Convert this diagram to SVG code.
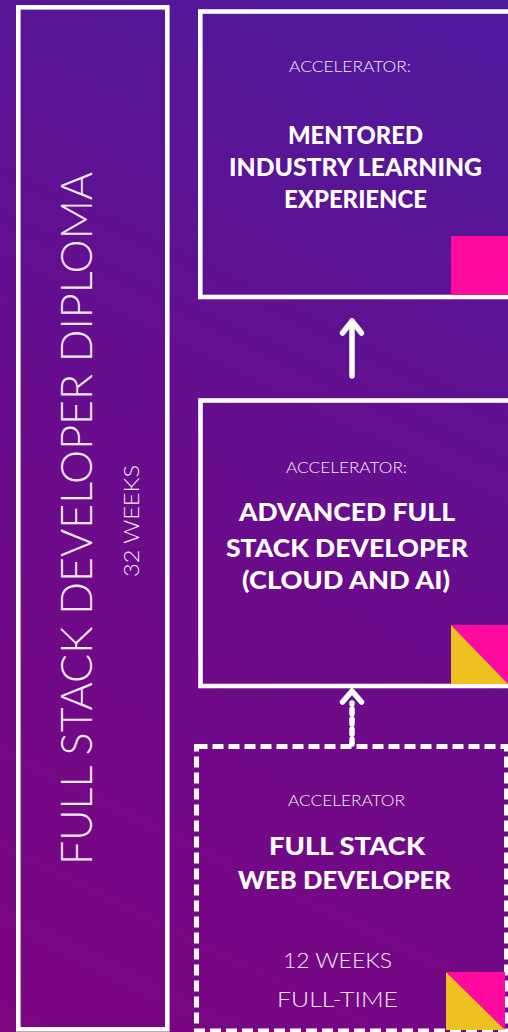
<svg xmlns="http://www.w3.org/2000/svg" width="508" height="1032" viewBox="0 0 508 1032">
<defs>
<linearGradient id="bg" x1="0" y1="1032" x2="508" y2="0" gradientUnits="userSpaceOnUse">
<stop offset="0" stop-color="#7d0580"/>
<stop offset="0.5" stop-color="#690c8c"/>
<stop offset="1" stop-color="#4e1a9e"/>
</linearGradient>
<style>
.box{fill:none;stroke:#ffffff;stroke-width:4.6}
.dash{fill:none;stroke:#ffffff;stroke-width:5;stroke-dasharray:11 5}
.lt{font-family:Lato,"Liberation Sans",sans-serif;font-weight:300;fill:#f3e9f7;text-anchor:middle}
.bd{font-family:Lato,"Liberation Sans",sans-serif;font-weight:900;fill:#ffffff;text-anchor:middle;font-size:24px}
.conn{stroke:#ffffff;stroke-width:5.5;fill:none;stroke-linecap:round;stroke-linejoin:round}
</style>
</defs>
<rect x="0" y="0" width="508" height="1032" fill="url(#bg)"/>

<g id="diploma">
<rect class="box" x="18.3" y="7.3" width="149" height="1022"/>
<text class="lt" transform="translate(92,518.5) rotate(-90)" font-size="44" textLength="693" lengthAdjust="spacingAndGlyphs">FULL STACK DEVELOPER DIPLOMA</text>
<text class="lt" transform="translate(139,521) rotate(-90)" font-size="21" textLength="112" lengthAdjust="spacingAndGlyphs">32 WEEKS</text>
</g>

<g id="mentored">
<rect class="box" x="200.3" y="11.5" width="320" height="285.5"/>
<rect x="451" y="236" width="57" height="59" fill="#ff0a9e"/>
<text class="lt" x="350" y="72" font-size="16" textLength="122" lengthAdjust="spacingAndGlyphs">ACCELERATOR:</text>
<text class="bd" x="355.5" y="144" textLength="135" lengthAdjust="spacingAndGlyphs">MENTORED</text>
<text class="bd" x="355.5" y="176" textLength="253" lengthAdjust="spacingAndGlyphs">INDUSTRY LEARNING</text>
<text class="bd" x="355.5" y="208" textLength="143" lengthAdjust="spacingAndGlyphs">EXPERIENCE</text>
</g>

<g id="advanced">
<rect class="box" x="200.5" y="400.5" width="320" height="285.5"/>
<polygon points="451,625 508,625 508,684" fill="#ff0a9e"/>
<polygon points="451,625 508,684 451,684" fill="#eec020"/>
<text class="lt" x="346.5" y="473" font-size="16" textLength="121" lengthAdjust="spacingAndGlyphs">ACCELERATOR:</text>
<text class="bd" x="347" y="521" textLength="216" lengthAdjust="spacingAndGlyphs">ADVANCED FULL</text>
<text class="bd" x="347" y="557" textLength="242" lengthAdjust="spacingAndGlyphs">STACK DEVELOPER</text>
<text class="bd" x="346" y="589" textLength="208" lengthAdjust="spacingAndGlyphs">(CLOUD AND AI)</text>
</g>

<g id="webdev">
<rect class="dash" x="196.5" y="746.5" width="310" height="284.5"/>
<polygon points="446,972 505,972 505,1030" fill="#ff0a9e"/>
<polygon points="446,972 505,1030 446,1030" fill="#eec020"/>
<text class="lt" x="346.5" y="806" font-size="16" textLength="117" lengthAdjust="spacingAndGlyphs">ACCELERATOR</text>
<text class="bd" x="347" y="855" textLength="156" lengthAdjust="spacingAndGlyphs">FULL STACK</text>
<text class="bd" x="344.5" y="889" textLength="213" lengthAdjust="spacingAndGlyphs">WEB DEVELOPER</text>
<text class="lt" x="337.5" y="968" font-size="21" textLength="109" lengthAdjust="spacingAndGlyphs">12 WEEKS</text>
<text class="lt" x="337.5" y="1007" font-size="21" textLength="121" lengthAdjust="spacingAndGlyphs">FULL-TIME</text>
</g>

<g id="connectors">
<line class="conn" x1="352" y1="376" x2="352" y2="321" stroke-linecap="butt"/>
<polyline class="conn" points="342.5,333 352,321 361.5,333"/>
<line class="conn" x1="352" y1="744" x2="352" y2="703" stroke-linecap="butt" stroke-dasharray="5 5"/>
<polyline class="conn" points="342.5,702 352,691 361.5,702"/>
</g>
</svg>
